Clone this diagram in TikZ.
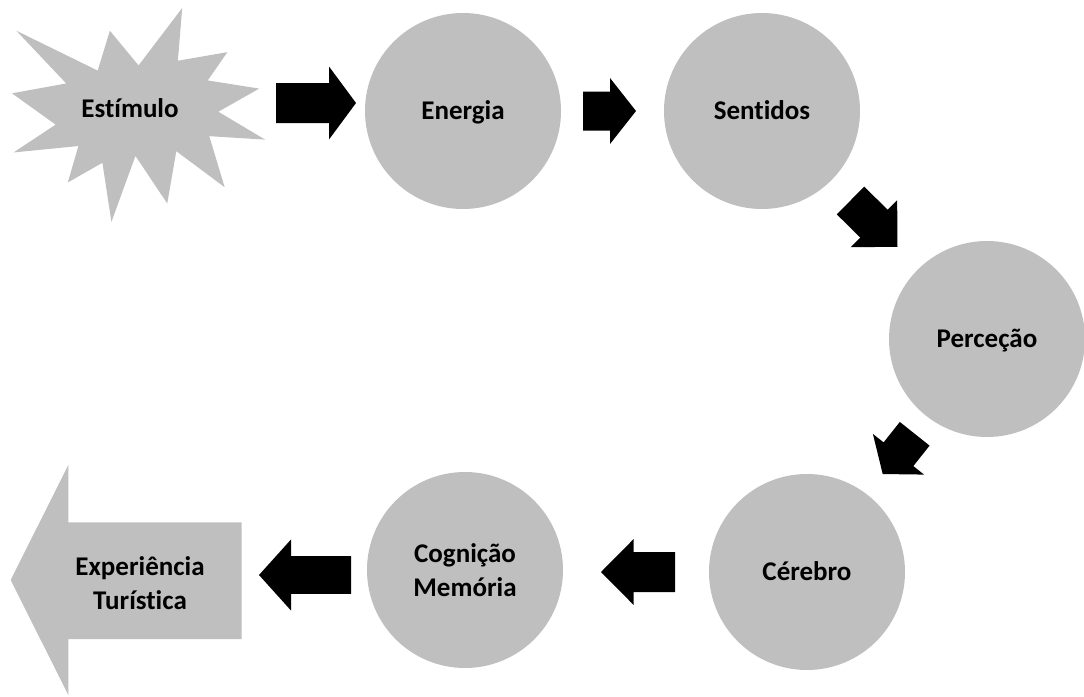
\documentclass[tikz,border=0pt]{standalone}
\usepackage{fontspec}
\setmainfont{Carlito}[Ligatures=NoCommon]
\definecolor{shapegray}{HTML}{BFBFBF}
\tikzset{
  shapefill/.style={fill=shapegray},
  lblfont/.style={font=\bfseries\fontsize{27}{34}\selectfont},
  circ/.style={circle, shapefill, minimum size=196pt, inner sep=0pt, lblfont, align=center},
  oneline/.style={text height=17pt, text depth=0pt},
  lbl/.style={inner sep=0pt, lblfont, align=center},
  arrowfill/.style={fill=black}
}
% block arrow: #1 back x, #2 back y, #3 angle, #4 length, #5 head length, #6 shaft width, #7 head width
\newcommand\blockarr[7]{%
  \fill[arrowfill, shift={(#1,#2)}, rotate=#3]
    (0,-#6/2) -- (#4-#5,-#6/2) -- (#4-#5,-#7/2) -- (#4,0) -- (#4-#5,#7/2) -- (#4-#5,#6/2) -- (0,#6/2) -- cycle;}
\begin{document}
\begin{tikzpicture}[x=1pt, y=-1pt]
\useasboundingbox (0,0) rectangle (1084,696);

% explosion star
\begin{scope}[shift={(12,8)}, x=0.011713pt, y=-0.0099074pt]
\fill[shapefill] (10800,5800) -- (14522,0) -- (14155,5325) -- (18380,4457) -- (16702,7315)
  -- (21097,8137) -- (17607,10475) -- (21600,13290) -- (16837,12942) -- (18145,18095)
  -- (14020,14457) -- (13247,19737) -- (10532,14935) -- (8485,21600) -- (7715,15627)
  -- (4762,17617) -- (5667,13937) -- (135,14587) -- (3722,11775) -- (0,8615)
  -- (4627,7617) -- (370,2295) -- (7312,6320) -- (8352,2295) -- cycle;
\end{scope}
\node[lbl, oneline] (estimulo) at (130,109) {Estímulo};

% circles
\node[circ] (energia)   at (463,111) {};
\node[circ] (sentidos)  at (762,111) {};
\node[circ] (percecao)  at (987,339) {};
\node[circ] (cerebro)   at (807,572) {};
\node[circ] (cognicao)  at (465,570) {Cognição\\Memória};
\node[lbl, oneline] (energiaT)  at (energia)  {Energia};
\node[lbl, oneline] (sentidosT) at (sentidos) {Sentidos};
\node[lbl, oneline] (percecaoT) at (percecao) {Perceção};
\node[lbl, oneline] (cerebroT)  at (cerebro)  {Cérebro};

% big grey arrow
\fill[shapefill] (10.7,580) -- (68.3,465) -- (68.3,522.3) -- (241.7,522.3)
  -- (241.7,639) -- (68.3,639) -- (68.3,695) -- cycle;
\node[lbl] (experiencia) at (140,583) {Experiência\\Turística};

% black block arrows
\blockarr{276}{103}{0}{80}{27}{40}{73}
\blockarr{583}{111}{0}{53}{26}{39}{66}
\blockarr{850.5}{200.5}{-44.6}{66}{33}{39}{66}
\blockarr{914.7}{433.8}{-128.5}{51.4}{25.3}{38}{65.4}
\blockarr{675}{572}{180}{74}{32.7}{40}{66}
\blockarr{351}{575}{180}{92}{32}{37.6}{71}
\end{tikzpicture}
\end{document}
